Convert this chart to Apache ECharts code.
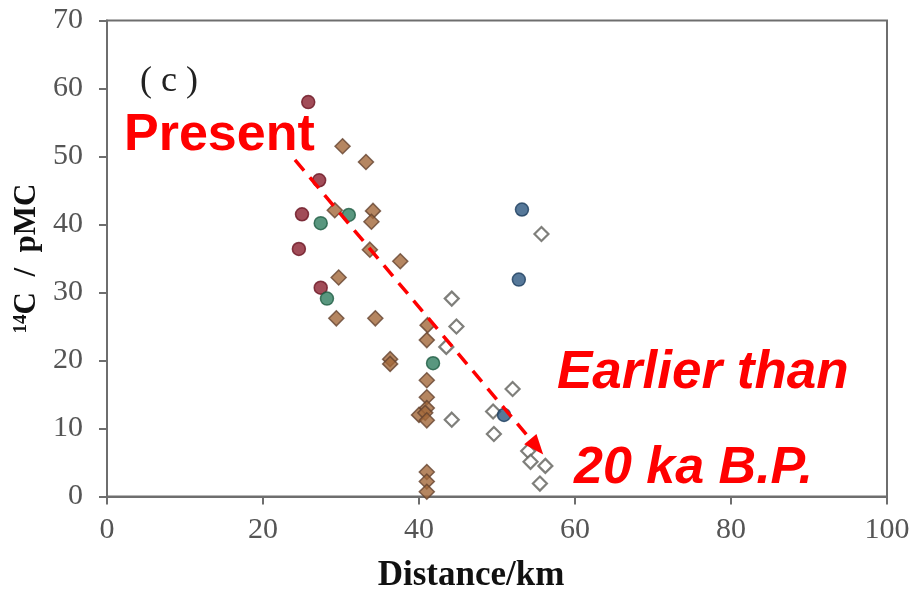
<!DOCTYPE html>
<html>
<head>
<meta charset="utf-8">
<script src="https://cdn.jsdelivr.net/npm/echarts@6/dist/echarts.min.js"></script>
<style>
  html, body { margin: 0; padding: 0; background: #fff; }
  #chart { width: 909px; height: 590px; }
</style>
</head>
<body>
<div id="chart"></div>
<script>
// Distance (km) and 14C activity (pMC) for each sample group
const redCircles = [[25.8, 58.0], [27.2, 46.5], [25.0, 41.5], [24.6, 36.4], [27.4, 30.7]];
const greenCircles = [[27.4, 40.2], [31.0, 41.4], [28.2, 29.1], [41.8, 19.6]];
const blueCircles = [[53.2, 42.2], [52.8, 31.9], [50.9, 12.0]];
const brownDiamonds = [
  [30.2, 51.5], [33.2, 49.2], [29.2, 42.1], [34.1, 42.0], [33.9, 40.4],
  [33.7, 36.3], [37.6, 34.6], [29.7, 32.2], [29.4, 26.2], [34.4, 26.2],
  [36.3, 20.2], [36.3, 19.5], [41.1, 25.2], [41.0, 23.0], [41.0, 17.1],
  [41.0, 14.6], [41.0, 13.0], [40.0, 12.0], [40.8, 12.3], [41.0, 11.2],
  [41.0, 3.6], [41.0, 2.2], [41.0, 0.7]
];
const openDiamonds = [
  [55.7, 38.6], [44.2, 29.1], [44.8, 25.0], [43.5, 22.0], [44.2, 11.3],
  [52.0, 15.8], [49.5, 12.5], [49.6, 9.2], [54.0, 6.7], [54.3, 5.1],
  [56.2, 4.5], [55.5, 1.9]
];
// Trend arrow: from recent water to old water
const trendArrow = [[24.1, 49.5], [55.1, 7.3]];

const xTicks = { min: 0, max: 100, interval: 20 };
const yTicks = { min: 0, max: 70, interval: 10 };

const serif = '"Liberation Serif", "Times New Roman", serif';
const sans = '"Liberation Sans", Arial, sans-serif';

const chart = echarts.init(document.getElementById('chart'), null, { renderer: 'canvas' });

function circleSeries(name, data, fill, edge) {
  return {
    name, type: 'scatter', data,
    symbol: 'circle', symbolSize: 13,
    itemStyle: { color: fill, borderColor: edge, borderWidth: 1.5 },
    z: 3
  };
}

chart.setOption({
  animation: false,
  backgroundColor: '#ffffff',
  grid: {
    left: 107, right: 22, top: 20.5, bottom: 93.5,
    containLabel: false, outerBoundsMode: 'none',
    show: true, borderColor: '#6e6e6e', borderWidth: 2, backgroundColor: 'transparent'
  },
  xAxis: {
    type: 'value', min: xTicks.min, max: xTicks.max, interval: xTicks.interval,
    name: 'Distance/km', nameLocation: 'middle', nameGap: 62,
    nameTextStyle: { fontFamily: serif, fontWeight: 'bold', fontSize: 35, color: '#111', padding: [0, 52, 0, 0] },
    axisLine: { lineStyle: { color: '#6e6e6e', width: 2 } },
    axisTick: { show: true, inside: false, length: 8, lineStyle: { color: '#6e6e6e', width: 2 } },
    axisLabel: { fontFamily: serif, fontSize: 30, color: '#555', margin: 19 },
    splitLine: { show: false }
  },
  yAxis: {
    type: 'value', min: yTicks.min, max: yTicks.max, interval: yTicks.interval,
    name: '{sup|14}C  /  pMC', nameLocation: 'middle', nameGap: 61, nameRotate: 90,
    nameTextStyle: {
      fontFamily: serif, fontWeight: 'bold', fontSize: 31, color: '#111',
      rich: { sup: { fontFamily: serif, fontWeight: 'bold', fontSize: 19, color: '#111', verticalAlign: 'top', padding: [0, 0, 12, 0] } }
    },
    axisLine: { show: true, lineStyle: { color: '#6e6e6e', width: 2 } },
    axisTick: { show: true, inside: false, length: 8, lineStyle: { color: '#6e6e6e', width: 2 } },
    axisLabel: { fontFamily: serif, fontSize: 30, color: '#555', margin: 24 },
    splitLine: { show: false }
  },
  series: [
    {
      name: 'brown', type: 'scatter', data: brownDiamonds,
      symbol: 'diamond', symbolSize: [15, 15],
      itemStyle: { color: '#a2683a', borderColor: '#654430', borderWidth: 1.5 },
      z: 2
    },
    {
      name: 'open', type: 'scatter', data: openDiamonds,
      symbol: 'diamond', symbolSize: [14, 14],
      itemStyle: { color: '#ffffff', borderColor: '#5f5f5a', borderWidth: 2.2 },
      z: 2
    },
    circleSeries('red', redCircles, '#8a1f2e', '#6a1422'),
    circleSeries('green', greenCircles, '#2f7d5f', '#1f5c44'),
    circleSeries('blue', blueCircles, '#2c5680', '#1d3d5e'),
    {
      name: 'trend', type: 'scatter', data: [],
      markLine: {
        silent: true, animation: false,
        symbol: ['none', 'triangle'], symbolSize: [16, 20],
        label: { show: false },
        lineStyle: { color: '#ff0000', width: 3.5, type: [14, 9] },
        data: [[{ coord: trendArrow[0] }, { coord: trendArrow[1] }]]
      },
      z: 5
    }
  ],
  graphic: [
    { type: 'text', left: 140, top: 64, z: 10,
      style: { text: '( c )', font: '36px ' + serif, fill: '#222' } },
    { type: 'text', x: 124, y: 136, z: 10,
      style: { text: 'Present', font: 'bold 52px ' + sans, fill: '#ff0000', textVerticalAlign: 'middle' } },
    { type: 'text', x: 557, y: 373, z: 10,
      style: { text: 'Earlier than', font: 'italic bold 53px ' + sans, fill: '#ff0000', textVerticalAlign: 'middle' } },
    { type: 'text', x: 574, y: 469, z: 10,
      style: { text: '20 ka B.P.', font: 'italic bold 52px ' + sans, fill: '#ff0000', textVerticalAlign: 'middle' } }
  ]
});
</script>
</body>
</html>
